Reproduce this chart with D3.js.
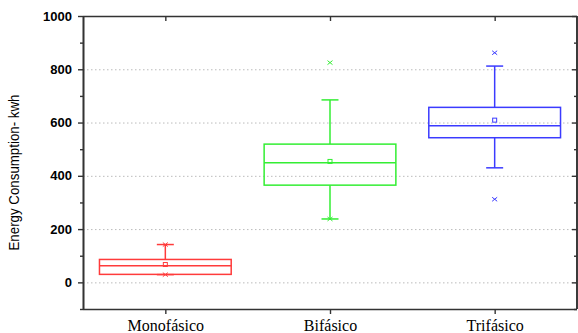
<!DOCTYPE html>
<html>
<head>
<meta charset="utf-8">
<script src="https://cdn.jsdelivr.net/npm/d3@7"></script>
<style>
  body { margin: 0; background: #fff; }
  svg text { fill: #000; }
</style>
</head>
<body>
<div id="chart"></div>
<script>
// data
const categories = ['Monofásico', 'Bifásico', 'Trifásico'];
const colors = ['#ff3b3b', '#33ee33', '#3b3bff'];
const whiskLow = [29, 238, 430];
const q1 = [30, 365, 543];
const median = [62, 449, 588];
const q3 = [86, 519, 657];
const whiskHigh = [142, 685, 812];
const mean = [67, 454, 609];
const extremes = [[29, 142], [238, 825], [312, 862]];
const yTicks = [0, 200, 400, 600, 800, 1000];

const width = 578, height = 333;
const m = { left: 83, right: 1, top: 16, bottom: 24 };

const svg = d3.select('#chart').append('svg')
  .attr('width', width).attr('height', height);

const x = d3.scalePoint().domain(categories)
  .range([m.left, width - m.right]).padding(0.5);
const y = d3.scaleLinear().domain([-100, 1000])
  .range([height - m.bottom, m.top]);

const boxW = x.step() * 0.8, capW = 17;

// dotted grid
svg.append('g').selectAll('line').data(yTicks.slice(0, -1)).join('line')
  .attr('x1', m.left).attr('x2', width - m.right)
  .attr('y1', d => y(d) + 0.5).attr('y2', d => y(d) + 0.5)
  .attr('stroke', '#bbb').attr('stroke-dasharray', '1.5,2.5');

// axes
const leftAx = svg.append('g').attr('transform', `translate(${m.left},0)`)
  .call(d3.axisLeft(y).tickValues(yTicks).tickFormat(d3.format('d')).tickSize(5).tickPadding(6));
leftAx.append('g').call(d3.axisLeft(y).tickValues(d3.range(-100, 1000, 200)).tickSize(3).tickFormat(''));
const rightAx = svg.append('g').attr('transform', `translate(${width - m.right},0)`)
  .call(d3.axisLeft(y).tickValues(yTicks).tickSize(5).tickFormat(''));
rightAx.append('g').call(d3.axisLeft(y).tickValues(d3.range(-100, 1000, 200)).tickSize(3).tickFormat(''));
const bottomAx = svg.append('g').attr('transform', `translate(0,${height - m.bottom})`)
  .call(d3.axisBottom(x).tickSize(5).tickPadding(6));
const topAx = svg.append('g').attr('transform', `translate(0,${m.top})`)
  .call(d3.axisBottom(x).tickSize(5).tickFormat(''));

[leftAx, rightAx, bottomAx, topAx].forEach(g => {
  g.selectAll('.domain').attr('stroke', '#333').attr('stroke-width', 1.6);
  g.selectAll('line').attr('stroke', '#333').attr('stroke-width', 1.4);
});
leftAx.selectAll('.domain').attr('d', `M0.5,${y(-100)}V${y(1000)}`);
rightAx.selectAll('.domain').attr('d', `M0,${y(-100)}V${y(1000)}`);
bottomAx.selectAll('.domain').attr('d', `M${m.left},0.5H${width - m.right}`);
topAx.selectAll('.domain').attr('d', `M${m.left},0.5H${width - m.right}`);

leftAx.selectAll('text').attr('font-family', 'Liberation Sans, Arial, sans-serif')
  .attr('font-size', 13).attr('font-weight', 'bold').attr('fill', '#222');
bottomAx.selectAll('text').attr('font-family', 'Liberation Serif, Times New Roman, serif')
  .attr('font-size', 16).attr('fill', '#111');

svg.append('text')
  .attr('transform', `translate(19,${(y(-100) + y(1000)) / 2 + 10}) rotate(-90)`)
  .attr('text-anchor', 'middle')
  .attr('font-family', 'Liberation Sans, Arial, sans-serif')
  .attr('font-size', 14)
  .attr('textLength', 156).attr('lengthAdjust', 'spacingAndGlyphs')
  .text('Energy Consumption- kwh');

// boxes
const boxes = svg.append('g').selectAll('g').data(categories).join('g')
  .attr('stroke', (d, i) => colors[i]).attr('fill', 'none').attr('stroke-width', 1.5);

boxes.append('line')
  .attr('x1', d => x(d)).attr('x2', d => x(d))
  .attr('y1', (d, i) => y(whiskHigh[i])).attr('y2', (d, i) => y(q3[i]));
boxes.append('line')
  .attr('x1', d => x(d)).attr('x2', d => x(d))
  .attr('y1', (d, i) => y(q1[i])).attr('y2', (d, i) => y(whiskLow[i]));
boxes.append('line')
  .attr('x1', d => x(d) - capW / 2).attr('x2', d => x(d) + capW / 2)
  .attr('y1', (d, i) => y(whiskHigh[i])).attr('y2', (d, i) => y(whiskHigh[i]));
boxes.append('line')
  .attr('x1', d => x(d) - capW / 2).attr('x2', d => x(d) + capW / 2)
  .attr('y1', (d, i) => y(whiskLow[i])).attr('y2', (d, i) => y(whiskLow[i]));
boxes.append('rect')
  .attr('x', d => x(d) - boxW / 2).attr('width', boxW)
  .attr('y', (d, i) => y(q3[i])).attr('height', (d, i) => y(q1[i]) - y(q3[i]));
boxes.append('line')
  .attr('x1', d => x(d) - boxW / 2).attr('x2', d => x(d) + boxW / 2)
  .attr('y1', (d, i) => y(median[i])).attr('y2', (d, i) => y(median[i]));
boxes.append('rect')
  .attr('stroke-width', 1)
  .attr('x', d => x(d) - 2).attr('width', 4)
  .attr('y', (d, i) => y(mean[i]) - 2).attr('height', 4);

// x markers for min / max
boxes.each(function (d, i) {
  d3.select(this).selectAll('path.ext').data(extremes[i]).join('path')
    .attr('class', 'ext').attr('stroke-width', 1)
    .attr('d', v => {
      const cx = x(d), cy = y(v);
      return `M${cx - 2.5},${cy - 2}L${cx + 2.5},${cy + 2}M${cx - 2.5},${cy + 2}L${cx + 2.5},${cy - 2}`;
    });
});
</script>
</body>
</html>
